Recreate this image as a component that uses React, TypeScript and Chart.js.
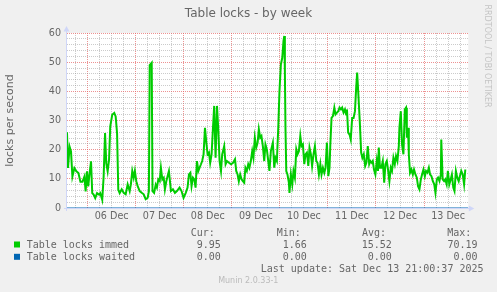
import { useEffect, useRef } from 'react';
import { Chart, registerables } from 'chart.js';

Chart.register(...registerables);

// hours relative to 06 Dec 00:00
const hours = [
  -10.3, -9.8, -9, -8.3, -7.6, -6.6, -5.6, -4.6, -3.6, -2.6, -1.6, -1, -0.3, 0.3, 1, 1.7, 2.3, 3, 3.8, 4.7,
  5.7, 6.3, 7.3, 8, 8.7, 9.3, 10, 10.7, 11.3, 12.3, 13.3, 14, 14.7, 15.3, 16, 17, 18, 19, 20, 21,
  21.6, 22.3, 23, 23.6, 24.3, 25, 26, 27, 28, 29, 30, 30.6, 31, 32, 32.4, 33.2, 34, 34.6, 35.3, 36,
  36.6, 37.3, 38, 38.6, 39.3, 40.6, 41.6, 42.6, 43.6, 44.6, 45.9, 46.9, 47.9, 49, 49.9, 50.6, 51.3, 51.9, 52.6, 53.3,
  53.9, 54.6, 55.3, 55.9, 56.6, 57.2, 57.9, 58.6, 59.2, 59.9, 60.6, 61.2, 61.9, 62.6, 63.2, 63.9, 64.6, 65.2, 65.9, 66.6,
  67.2, 68.2, 68.9, 69.6, 70.6, 71.6, 72.6, 73.6, 74.2, 74.9, 75.5, 76.2, 76.9, 77.5, 78.2, 78.8, 79.5, 80.2, 80.8, 81.5,
  82.2, 82.8, 83.5, 84.2, 84.9, 85.5, 86.2, 86.8, 87.5, 88.2, 88.8, 89.5, 90.2, 90.8, 91.5, 92.5, 93.2, 93.8, 94.5, 95.2,
  95.8, 96.5, 97.2, 97.8, 98.2, 98.5, 98.8, 99.2, 99.8, 100.5, 100.8, 101.5, 102.2, 102.8, 103.5, 104.2, 104.8, 105.5, 106.2, 106.8,
  107.5, 108.2, 108.8, 109.5, 110.2, 110.8, 111.5, 112.1, 112.8, 113.5, 114.2, 114.8, 115.5, 116.2, 116.8, 117.5, 118.2, 118.8, 119.5, 120.2,
  120.8, 121.2, 121.8, 122.5, 123.2, 123.8, 124.5, 125.2, 125.8, 126.5, 127.1, 127.8, 128.5, 129.1, 129.5, 130.1, 130.8, 131.4, 132.1, 132.8,
  133.5, 134.1, 134.6, 135.2, 135.9, 136.6, 137.2, 137.9, 138.6, 139.2, 139.9, 140.6, 141.2, 141.9, 142.4, 143, 143.7, 144.4, 145, 145.4,
  146, 146.7, 147.4, 148.1, 148.7, 149.4, 150, 150.7, 151.4, 152, 152.7, 153.4, 154, 154.7, 155.4, 155.7, 156.4, 157, 157.7, 158.4,
  159, 159.4, 160, 160.4, 161, 161.7, 162.4, 163, 163.7, 164.4, 165, 165.7, 166.4, 167, 167.7, 168.4, 169, 169.7, 170.4, 171,
  171.7, 172.4, 173.1, 173.7, 174.4, 175, 175.7, 176.4, 176.6, 177.3, 178, 178.6, 179.3, 179.9, 180.6, 181.3, 181.9, 182.6, 183.2, 183.9,
  184.6, 185.3, 185.9, 186.6, 187.3, 188, 188.6,
];

const immed = [
  26, 13.7, 21, 19.4, 10.8, 13.7, 12.6, 12, 9, 9, 10.8, 5.7, 12.6, 7.4, 12, 16, 5.1, 4.6, 3.4, 5.1,
  4.6, 5.1, 2.8, 10.8, 25.7, 15.4, 12.6, 16.6, 28, 32, 32.6, 31.4, 25.7, 6.3, 5.1, 6.4, 5.2, 4.7, 8.1, 5.8,
  8.1, 12.7, 10.4, 12.7, 9.2, 7.5, 5.8, 5.2, 4.7, 3, 3.5, 5.8, 49, 49.8, 5.8, 5.2, 8, 7, 9.8, 9.2,
  13.8, 9.8, 10.4, 6.4, 9.2, 12.7, 5.8, 6.4, 5.2, 5.8, 7, 5.8, 3.5, 5.2, 7, 11.5, 12.1, 7.5, 10.4, 9.8,
  7, 16.1, 12.7, 13.8, 15, 16.1, 18.4, 27.5, 23, 18.4, 19, 15.5, 18.4, 27.5, 35, 17.2, 35, 27.5, 16.1, 12.7,
  18.4, 21.2, 15, 16.1, 15.5, 15, 15.5, 16.7, 12.7, 11.5, 9.2, 11.5, 9.8, 9.2, 8.7, 13.8, 12.7, 15, 13.8, 16.1,
  19.5, 17.2, 24.1, 20.7, 22.4, 27, 24.1, 24.7, 21.2, 16.1, 21.8, 20.1, 16.1, 12.7, 19.5, 22.4, 13.8, 17.2, 16.1, 27.5,
  40, 49.2, 51.5, 57.2, 59, 47, 27.5, 12.7, 11.5, 8.7, 5.2, 11.5, 8.1, 12.7, 10.4, 20.1, 18.4, 19.5, 24.7, 21.2,
  21.8, 15, 18.4, 19, 14.4, 20.7, 18.4, 14.4, 18.4, 21.2, 16.1, 15.5, 11.5, 15, 11.5, 13.8, 12.1, 13.8, 22.4, 10.9,
  13.8, 21.8, 30.9, 31.5, 34.4, 32.1, 32.7, 33.2, 34.4, 33.8, 34.4, 32.7, 33.8, 32.1, 33.8, 25.8, 25.2, 23.5, 30.9, 30.9,
  33.2, 41.2, 46.4, 38.9, 29.8, 19, 17.2, 18.4, 14.4, 15.5, 21.2, 15, 16.1, 15.5, 16.1, 13.2, 11.5, 16.1, 12.7, 20.7,
  13.8, 13.8, 16.1, 8.7, 15, 16.1, 13.2, 9.2, 13.8, 12.7, 17.2, 15, 17.8, 16.1, 21.2, 27.5, 33.2, 21.8, 18.4, 33.8,
  34.4, 24.1, 27.5, 18.4, 12.1, 13.2, 11.5, 13.2, 11.5, 10.4, 7.5, 6.4, 9.8, 11.5, 13.2, 10.9, 12.7, 12.1, 13.8, 11.5,
  10.9, 9.2, 8.1, 5.2, 9.8, 10.4, 9.2, 11.5, 23.5, 9.8, 9.2, 9.8, 8.1, 12.7, 8.1, 9.8, 11.5, 7, 5.8, 12.7,
  10.4, 9.2, 10.9, 12.7, 11.5, 8.1, 13.2,
];

const waitedHours = [-10.3, 190.1];
const waited = [0, 0];

const dayLabels = ['06 Dec', '07 Dec', '08 Dec', '09 Dec', '10 Dec', '11 Dec', '12 Dec', '13 Dec'];
const seriesNames = ['Table locks immed', 'Table locks waited'];
const seriesColors = ['#00cc00', '#0066b3'];
const statHeaders = ['Cur:', 'Min:', 'Avg:', 'Max:'];
const immedStats = ['9.95', '1.66', '15.52', '70.19'];
const waitedStats = ['0.00', '0.00', '0.00', '0.00'];
const titleText = 'Table locks - by week';
const yTitle = 'locks per second';
const lastUpdate = 'Last update: Sat Dec 13 21:00:37 2025';
const watermark = 'RRDTOOL / TOBI OETIKER';
const versionText = 'Munin 2.0.33-1';

const FONT = '#666666';
const AXIS = '#cfd6f8';
const MINOR = 'rgba(140,140,140,0.45)';
const MAJOR = 'rgba(230,100,100,0.7)';

const muninPlugin = {
  id: 'muninDecor',
  beforeDraw(chart: any) {
    const { ctx, chartArea: a, width, height } = chart;
    ctx.save();
    ctx.fillStyle = '#f0f0f0';
    ctx.fillRect(0, 0, width, height);
    ctx.fillStyle = '#ffffff';
    ctx.fillRect(a.left, a.top, a.right - a.left, a.bottom - a.top);
    ctx.restore();
  },
  beforeDatasetsDraw(chart: any) {
    const { ctx, chartArea: a } = chart;
    ctx.save();
    ctx.strokeStyle = AXIS;
    ctx.fillStyle = AXIS;
    ctx.lineWidth = 1;
    // y axis
    ctx.beginPath();
    ctx.moveTo(a.left - 0.5, a.bottom + 3);
    ctx.lineTo(a.left - 0.5, a.top - 3);
    ctx.stroke();
    ctx.beginPath();
    ctx.moveTo(a.left - 0.5, a.top - 7);
    ctx.lineTo(a.left - 3.5, a.top - 1.5);
    ctx.lineTo(a.left + 2.5, a.top - 1.5);
    ctx.closePath();
    ctx.fill();
    // x axis
    ctx.beginPath();
    ctx.moveTo(a.left - 3, a.bottom + 0.5);
    ctx.lineTo(a.right + 2, a.bottom + 0.5);
    ctx.stroke();
    ctx.beginPath();
    ctx.moveTo(a.right + 6, a.bottom + 0.5);
    ctx.lineTo(a.right + 0.5, a.bottom - 2.5);
    ctx.lineTo(a.right + 0.5, a.bottom + 3.5);
    ctx.closePath();
    ctx.fill();
    ctx.restore();
  },
  afterDraw(chart: any) {
    const { ctx } = chart;
    ctx.save();
    ctx.textBaseline = 'middle';
    // title
    ctx.fillStyle = FONT;
    ctx.font = '12px "DejaVu Sans"';
    ctx.textAlign = 'center';
    ctx.fillText(titleText, 248.5, 13.5);
    // watermark
    ctx.save();
    ctx.translate(487.5, 56);
    ctx.rotate(Math.PI / 2);
    ctx.fillStyle = '#c4c4c4';
    ctx.font = '8px "DejaVu Sans"';
    ctx.fillText(watermark, 0, 0);
    ctx.restore();
    // legend
    ctx.font = '10px "DejaVu Sans Mono"';
    ctx.fillStyle = FONT;
    const headX = [190.7, 276.7, 362, 447.3];
    const valRight = [220.8, 306.8, 391.8, 477.6];
    ctx.textAlign = 'left';
    statHeaders.forEach((h, i) => ctx.fillText(h, headX[i], 233.5));
    const rows = [immedStats, waitedStats];
    const rowY = [245, 257.3];
    rows.forEach((vals, r) => {
      ctx.fillStyle = seriesColors[r];
      ctx.fillRect(14, rowY[r] - 3.5, 6, 6);
      ctx.fillStyle = FONT;
      ctx.textAlign = 'left';
      ctx.fillText(seriesNames[r], 26.7, rowY[r]);
      ctx.textAlign = 'right';
      vals.forEach((v, i) => ctx.fillText(v, valRight[i], rowY[r]));
    });
    ctx.textAlign = 'right';
    ctx.fillText(lastUpdate, 483.5, 269.7);
    ctx.textAlign = 'center';
    ctx.fillStyle = '#bbbbbb';
    ctx.font = '8px "DejaVu Sans"';
    ctx.fillText(versionText, 248.3, 281);
    ctx.restore();
  },
};

export default function App() {
  const ref = useRef<HTMLCanvasElement | null>(null);
  useEffect(() => {
    if (!ref.current) return;
    const chart = new Chart(ref.current, {
      type: 'line',
      data: {
        datasets: [
          {
            label: seriesNames[0],
            data: hours.map((h, i) => ({ x: h, y: immed[i] })),
            borderColor: seriesColors[0],
            backgroundColor: seriesColors[0],
            borderWidth: 2,
            pointRadius: 0,
            tension: 0,
          },
          {
            label: seriesNames[1],
            data: waitedHours.map((h, i) => ({ x: h, y: waited[i] })),
            borderColor: seriesColors[1],
            backgroundColor: seriesColors[1],
            borderWidth: 1,
            pointRadius: 0,
            tension: 0,
          },
        ],
      },
      options: {
        responsive: false,
        animation: false,
        devicePixelRatio: 1,
        layout: { padding: { left: 0, right: 28.7, top: 33, bottom: 64 } },
        plugins: { legend: { display: false }, tooltip: { enabled: false }, title: { display: false } },
        scales: {
          x: {
            type: 'linear',
            min: -10.3,
            max: 190.1,
            afterFit: (s: any) => { s.height = 20; },
            border: { display: false, dash: [1, 1] },
            grid: {
              drawTicks: false,
              lineWidth: 1,
              color: (c: any) => (c.tick && Math.round(c.tick.value) % 24 === 0 ? MAJOR : MINOR),
            },
            ticks: {
              stepSize: 6,
              includeBounds: false,
              autoSkip: false,
              maxRotation: 0,
              minRotation: 0,
              padding: 3,
              color: FONT,
              font: { family: 'DejaVu Sans', size: 9.6 },
              callback: (v: any) => {
                const n = Math.round(Number(v));
                if ((n - 12) % 24 !== 0) return '';
                const idx = (n - 12) / 24;
                return dayLabels[idx] ?? '';
              },
            },
          },
          y: {
            min: 0,
            max: 60,
            afterFit: (s: any) => { s.width = 67; },
            border: { display: false, dash: [1, 1] },
            grid: {
              drawTicks: false,
              lineWidth: 1,
              color: (c: any) => (c.tick && Math.round(c.tick.value) % 10 === 0 ? MAJOR : MINOR),
            },
            title: {
              display: true,
              text: yTitle,
              color: FONT,
              font: { family: 'DejaVu Sans', size: 11 },
              padding: { top: 4, bottom: 0 },
            },
            ticks: {
              stepSize: 2,
              autoSkip: false,
              padding: 6,
              color: FONT,
              font: { family: 'DejaVu Sans', size: 9.6 },
              callback: (v: any) => (Math.round(Number(v)) % 10 === 0 ? String(v) : ''),
            },
          },
        },
      },
      plugins: [muninPlugin],
    } as any);
    return () => chart.destroy();
  }, []);
  return (
    <div style={{ position: 'fixed', left: 0, top: 0, width: 497, height: 292, background: '#f0f0f0' }}>
      <canvas ref={ref} width={497} height={292} style={{ display: 'block', width: 497, height: 292 }} />
    </div>
  );
}
